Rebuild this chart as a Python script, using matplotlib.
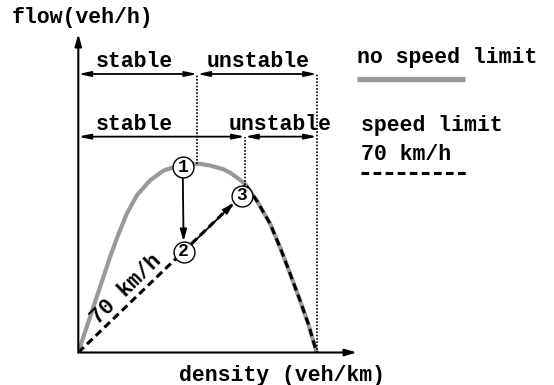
import matplotlib.pyplot as plt

# fundamental diagram (density 0..100 = jam density, flow 0..100 = capacity)
densidade = [0, 2.1, 4.9, 7.7, 10.5, 13.3, 16.1, 20.3, 24.5, 30.1, 35.7, 40, 44, 48.2, 51,
             55.2, 60.7, 63.5, 66.4, 69.9, 74.8, 80.4, 84.6, 88.8, 93.0, 96.4, 100]
fluxo = [0, 8.1, 18.7, 29.3, 39.9, 50.5, 60.3, 73.5, 83.2, 91.2, 96.4, 98.2, 99.3, 100, 100,
         99.1, 97.2, 95.4, 92.9, 89.4, 80.6, 68.4, 55.8, 41.9, 27.6, 15.4, 0]

# speed limit branch: straight line from origin to point 3, then along the curve
densidade_limite = [0, 68.5, 69.9, 74.8, 80.4, 84.6, 88.8, 93.0, 96.4, 100]
fluxo_limite = [0, 83.2, 89.4, 80.6, 68.4, 55.8, 41.9, 27.6, 15.4, 0]

# numbered states
pontos_k = [43.8, 44.2, 68.5]
pontos_q = [98.2, 53.4, 83.2]
pontos_nome = ['1', '2', '3']

# regime limits
k_critica_sem = 49.9
k_critica_com = 69.9
k_jam = 100.1

fonte = {'family': 'Liberation Mono', 'weight': 'bold'}
tam = 15.5
tracejado = (0, (2.5, 1.45))

fig = plt.figure(figsize=(5.54, 3.85), dpi=100)
ax = fig.add_axes([78.3 / 554, 32.5 / 385, 278.7 / 554, 318.5 / 385])
ax.set_xlim(0, 116.9)
ax.set_ylim(0, 168.8)
ax.axis('off')

# axes with arrows
seta = dict(arrowstyle='-|>,head_length=0.7,head_width=0.2', color='black', lw=1.5,
            shrinkA=0, shrinkB=0)
ax.annotate('', xy=(116.9, 0), xytext=(0, 0), arrowprops=seta, annotation_clip=False)
ax.annotate('', xy=(0, 168.8), xytext=(0, 0), arrowprops=seta, annotation_clip=False)

ax.plot(densidade, fluxo, color='#999999', lw=3, solid_capstyle='butt', zorder=2)
ax.plot(densidade_limite, fluxo_limite, color='black', lw=2.2, ls=tracejado, zorder=3)

# dotted regime lines
ax.plot([k_critica_sem, k_critica_sem], [100, 147.6], color='black', lw=1.2, ls=(0, (1, 1)))
ax.plot([k_critica_com, k_critica_com], [89, 114.4], color='black', lw=1.2, ls=(0, (1, 1)))
ax.plot([k_jam, k_jam], [0, 147.6], color='black', lw=1.2, ls=(0, (1, 1)))

dupla = dict(arrowstyle='<|-|>,head_length=0.7,head_width=0.15', color='black', lw=1.3,
             shrinkA=0, shrinkB=0)
for y, k in [(147.6, k_critica_sem), (114.4, k_critica_com)]:
    ax.annotate('', xy=(0, y), xytext=(k, y), arrowprops=dupla)
    ax.annotate('', xy=(k, y), xytext=(k_jam, y), arrowprops=dupla)

ax.text(23.6, 154, 'stable', fontsize=tam, ha='center', va='center', **fonte)
ax.text(75.4, 154, 'unstable', fontsize=tam, ha='center', va='center', **fonte)
ax.text(23.6, 121, 'stable', fontsize=tam, ha='center', va='center', **fonte)
ax.text(84.6, 121, 'unstable', fontsize=tam, ha='center', va='center', **fonte)

# transitions 1 -> 2 -> 3
passo = dict(arrowstyle='-|>,head_length=0.7,head_width=0.2', color='black', lw=1.3,
             shrinkA=7.5, shrinkB=7.5)
ax.annotate('', xy=(pontos_k[1], pontos_q[1]), xytext=(pontos_k[0], pontos_q[0]), arrowprops=passo)
ax.annotate('', xy=(pontos_k[2], pontos_q[2]), xytext=(pontos_k[1], pontos_q[1]), arrowprops=passo)

ax.plot(pontos_k, pontos_q, 'o', ms=15, mfc='white', mec='black', mew=1, zorder=5)
for k, q, n in zip(pontos_k, pontos_q, pontos_nome):
    ax.text(k, q, n, fontsize=13, ha='center', va='center', zorder=6, **fonte)

ax.text(20.3, 33.5, '70 km/h', fontsize=tam, rotation=44.6, ha='center', va='center',
        rotation_mode='anchor', **fonte)

# labels and legend outside the axes
fig.text(12 / 554, 1 - 17 / 385, 'flow(veh/h)', fontsize=tam, ha='left', va='center', **fonte)
fig.text(282 / 554, 1 - 375 / 385, 'density (veh/km)', fontsize=tam, ha='center', va='center', **fonte)
fig.text(357 / 554, 1 - 58 / 385, 'no speed limit', fontsize=tam, ha='left', va='center', **fonte)
fig.add_artist(plt.Line2D([357 / 554, 465 / 554], [1 - 79.3 / 385] * 2, color='#999999', lw=3.8,
                          solid_capstyle='butt'))
fig.text(361 / 554, 1 - 125 / 385, 'speed limit', fontsize=tam, ha='left', va='center', **fonte)
fig.text(361 / 554, 1 - 154 / 385, '70 km/h', fontsize=tam, ha='left', va='center', **fonte)
fig.add_artist(plt.Line2D([361 / 554, 467 / 554], [1 - 173 / 385] * 2, color='black', lw=2.2,
                          ls=tracejado))

fig.savefig('out.png', dpi=100)
